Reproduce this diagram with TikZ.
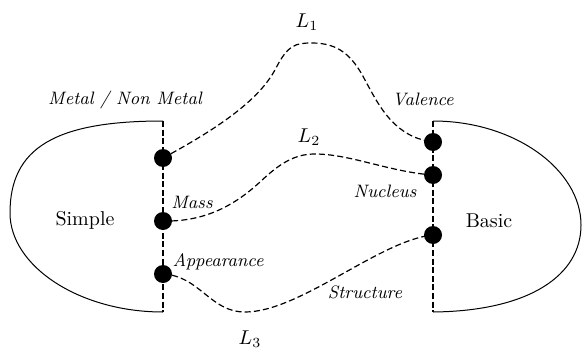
\documentclass[tikz,border=0pt]{standalone}
\usetikzlibrary{positioning}

\begin{document}
\begin{tikzpicture}[
  x=0.5pt, y=-0.5pt,
  every node/.style={font=\small},
  dot/.style={circle, fill=black, inner sep=0pt, minimum size=9pt},
  prop/.style={font=\small\itshape},
  group/.style={font=\normalsize},
  link/.style={line width=0.6pt, dash pattern=on 3pt off 1.6pt},
  spine/.style={line width=0.8pt, dash pattern=on 3pt off 1.3pt},
  rim/.style={line width=0.5pt},
]
\useasboundingbox (0,0) rectangle (582,353);

%% Outlines of the two halves
\draw[rim] (163,121) .. controls (55,121) and (10,148) .. (10,213)
  .. controls (10,266) and (79,312) .. (163,312);
\draw[rim] (433,121) .. controls (515,121) and (581,170) .. (581,225)
  .. controls (581,275) and (530,311) .. (433,312);
\draw[spine] (163,121) -- (163,312);
\draw[spine] (433,121) -- (433,312);

%% Property dots
\node[dot] (metal)   at (163,158) {};
\node[dot] (mass)    at (163,221) {};
\node[dot] (appear)  at (163,274) {};
\node[dot] (valence) at (433,142) {};
\node[dot] (nucleus) at (433,175) {};
\node[dot] (struct)  at (433,235) {};

%% Links
\draw[link] (metal.center) .. controls (230,122) and (262,95) .. (276,68)
  .. controls (288,45) and (295,43) .. (312,43)
  .. controls (338,43) and (352,55) .. (365,80)
  .. controls (380,108) and (395,137) .. (valence.center);
\draw[link] (mass.center) .. controls (205,222) and (235,205) .. (260,182)
  .. controls (280,163) and (295,154) .. (315,154)
  .. controls (350,154) and (390,172) .. (nucleus.center);
\draw[link] (appear.center) .. controls (200,276) and (210,312) .. (245,312)
  .. controls (300,312) and (380,240) .. (struct.center);

%% Labels
\node[group] (simple) at (85,220)  {Simple};
\node[group] (basic)  at (489,221) {Basic};
\node[prop] (lmetal)   at (125,100) {Metal / Non Metal};
\node[prop] (lmass)    at (192,202) {Mass};
\node[prop] (lappear)  at (218,262) {Appearance};
\node[prop] (lvalence) at (423,99)  {Valence};
\node[prop] (lnucleus) at (385,191) {Nucleus};
\node[prop] (lstruct)  at (365,292) {Structure};
\node[group] (l1) at (307,22)  {$L_1$};
\node[group] (l2) at (309,137) {$L_2$};
\node[group] (l3) at (250,339) {$L_3$};

\end{tikzpicture}
\end{document}
